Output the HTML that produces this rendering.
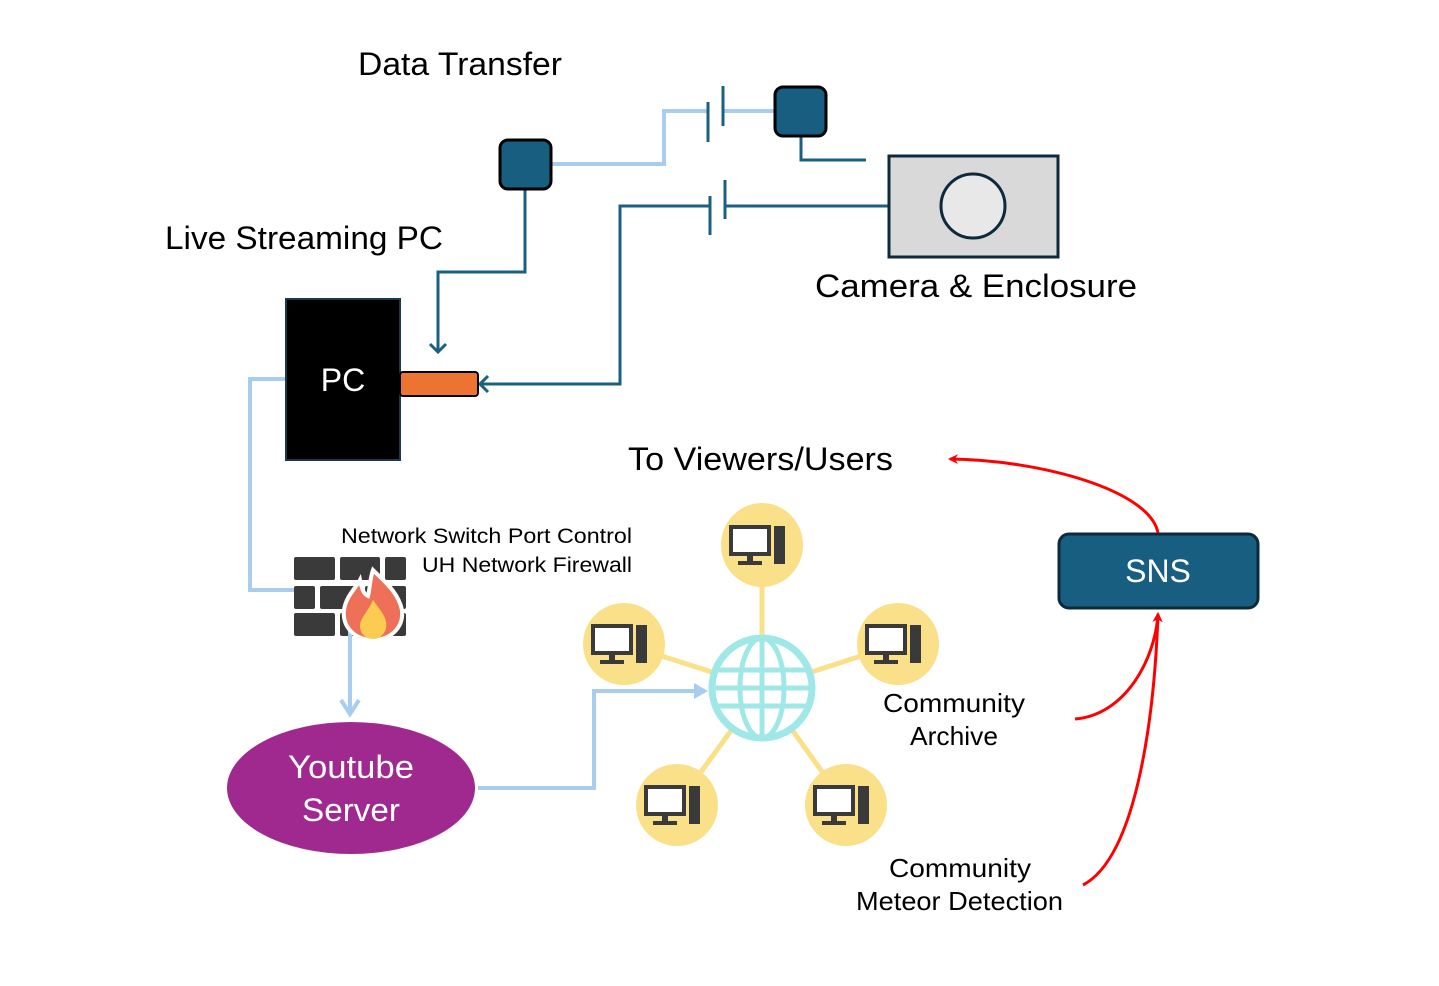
<!DOCTYPE html>
<html><head><meta charset="utf-8"><style>
html,body{margin:0;padding:0;background:#fff;}
svg{display:block;}
text{font-family:"Liberation Sans",sans-serif;}
</style></head><body>
<svg width="1439" height="986" viewBox="0 0 1439 986" xmlns="http://www.w3.org/2000/svg">
<defs>
<marker id="ar" markerWidth="10" markerHeight="10" refX="8" refY="5" orient="auto" markerUnits="userSpaceOnUse">
<path d="M0,0 L10,5 L0,10 L3,5 Z" fill="red"/></marker>
</defs>
<polyline points="551,164 664,164 664,111 708,111" fill="none" stroke="#a8cdee" stroke-width="4"/>
<line x1="723" y1="111" x2="776" y2="111" stroke="#a8cdee" stroke-width="4"/>
<g stroke="#1a6080" stroke-width="3" fill="none">
<line x1="708" y1="102" x2="708" y2="142"/>
<line x1="723" y1="86" x2="723" y2="126"/>
<polyline points="801,136 801,160 866,160"/>
<line x1="710" y1="196" x2="710" y2="235"/>
<line x1="725" y1="180" x2="725" y2="219"/>
<line x1="725" y1="206" x2="889" y2="206"/>
<polyline points="710,206 620,206 620,384 481,384"/>
<polyline points="488,376 480,384 488,392"/>
<polyline points="525,189 525,272 438,272 438,352"/>
<polyline points="430,344 438,352 446,344"/>
</g>
<rect x="500" y="140" width="51" height="49" rx="8" fill="#175e80" stroke="#000" stroke-width="3"/>
<rect x="775" y="87" width="51" height="49" rx="8" fill="#175e80" stroke="#000" stroke-width="3"/>
<rect x="889" y="156" width="169" height="101" fill="#d9d9d9" stroke="#0d2a3d" stroke-width="3"/>
<circle cx="973" cy="206" r="32" fill="#e8e8e8" stroke="#0d2a3d" stroke-width="3"/>
<polyline points="286,379 250,379 250,590 296,590" fill="none" stroke="#a8cdee" stroke-width="4"/>
<rect x="286" y="299" width="114" height="161" fill="#000" stroke="#1a3a4a" stroke-width="2"/>
<text x="343" y="391" font-size="32" fill="#fff" text-anchor="middle">PC</text>
<rect x="400" y="372" width="78" height="24" rx="3" fill="#ec7332" stroke="#000" stroke-width="2"/>
<g fill="#3a3a3a">
<rect x="294" y="557" width="41" height="23" rx="2"/><rect x="340" y="557" width="40" height="23" rx="2"/><rect x="385" y="557" width="21" height="23" rx="2"/>
<rect x="294" y="586" width="21" height="23" rx="2"/><rect x="320" y="586" width="40" height="23" rx="2"/><rect x="365" y="586" width="41" height="23" rx="2"/>
<rect x="294" y="613" width="41" height="23" rx="2"/><rect x="340" y="613" width="40" height="23" rx="2"/><rect x="385" y="613" width="21" height="23" rx="2"/>
</g>
<line x1="350" y1="610" x2="350" y2="712" stroke="#a8cdee" stroke-width="4"/>
<polyline points="341,700 350,714 359,700" fill="none" stroke="#a8cdee" stroke-width="4"/>
<path d="M373,570 C385,582 398,592 402,610 C404,628 390,640 373,640 C356,640 342,628 344,610 C346,596 356,588 360,580 C362,590 364,594 368,596 C370,588 370,578 373,570 Z" fill="#ef7059" stroke="#fff" stroke-width="4"/>
<path d="M373,600 C380,610 388,618 386,628 C384,636 378,639 373,639 C366,639 360,634 360,626 C360,618 368,612 373,600 Z" fill="#fccb52"/>
<ellipse cx="351" cy="788" rx="124" ry="66" fill="#a0298f"/>
<text x="288" y="778" font-size="32" fill="#fff" textLength="126" lengthAdjust="spacingAndGlyphs">Youtube</text>
<text x="302" y="821" font-size="32" fill="#fff" textLength="98" lengthAdjust="spacingAndGlyphs">Server</text>
<polyline points="478,788 594,788 594,691 696,691" fill="none" stroke="#a8cdee" stroke-width="4"/>
<path d="M694,683 L708,691 L694,699 Z" fill="#a8cdee"/>
<g stroke="#fbe08a" stroke-width="5">
<line x1="762" y1="688" x2="762" y2="560"/><line x1="762" y1="688" x2="624" y2="644"/>
<line x1="762" y1="688" x2="898" y2="644"/><line x1="762" y1="688" x2="677" y2="805"/>
<line x1="762" y1="688" x2="846" y2="805"/>
</g>
<g fill="#fbe08a">
<ellipse cx="762" cy="545" rx="41" ry="42"/><ellipse cx="624" cy="644" rx="41" ry="41"/>
<ellipse cx="898" cy="644" rx="41" ry="41"/><ellipse cx="677" cy="805" rx="41" ry="41"/>
<ellipse cx="846" cy="805" rx="41" ry="41"/>
</g>
<g>
<circle cx="762" cy="688" r="50" fill="#fff" stroke="#a0e8e8" stroke-width="7"/>
<g stroke="#a0e8e8" stroke-width="5" fill="none">
<ellipse cx="762" cy="688" rx="22" ry="50"/>
<line x1="762" y1="638" x2="762" y2="738"/>
<line x1="716" y1="670" x2="808" y2="670"/><line x1="716" y1="706" x2="808" y2="706"/>
<line x1="712" y1="688" x2="812" y2="688"/>
</g></g>
<g fill="#3a3a3a">
<g transform="translate(762,545)"><rect x="-31" y="-18" width="38" height="27" fill="#fff" stroke="#3a3a3a" stroke-width="4"/><rect x="-15" y="9" width="6" height="8"/><rect x="-24" y="16" width="24" height="4"/><rect x="12" y="-19" width="11" height="38"/></g>
<g transform="translate(624,644)"><rect x="-31" y="-18" width="38" height="27" fill="#fff" stroke="#3a3a3a" stroke-width="4"/><rect x="-15" y="9" width="6" height="8"/><rect x="-24" y="16" width="24" height="4"/><rect x="12" y="-19" width="11" height="38"/></g>
<g transform="translate(898,644)"><rect x="-31" y="-18" width="38" height="27" fill="#fff" stroke="#3a3a3a" stroke-width="4"/><rect x="-15" y="9" width="6" height="8"/><rect x="-24" y="16" width="24" height="4"/><rect x="12" y="-19" width="11" height="38"/></g>
<g transform="translate(677,805)"><rect x="-31" y="-18" width="38" height="27" fill="#fff" stroke="#3a3a3a" stroke-width="4"/><rect x="-15" y="9" width="6" height="8"/><rect x="-24" y="16" width="24" height="4"/><rect x="12" y="-19" width="11" height="38"/></g>
<g transform="translate(846,805)"><rect x="-31" y="-18" width="38" height="27" fill="#fff" stroke="#3a3a3a" stroke-width="4"/><rect x="-15" y="9" width="6" height="8"/><rect x="-24" y="16" width="24" height="4"/><rect x="12" y="-19" width="11" height="38"/></g>
</g>
<rect x="1059" y="534" width="199" height="74" rx="10" fill="#175e80" stroke="#0d2a3d" stroke-width="3"/>
<text x="1158" y="582" font-size="32" fill="#fff" text-anchor="middle">SNS</text>
<g stroke="red" stroke-width="3" fill="none">
<path d="M1158,533 C1150,490 1040,460 950,459" marker-end="url(#ar)"/>
<path d="M1075,719 C1125,715 1155,660 1158,614" marker-end="url(#ar)"/>
<path d="M1083,885 C1140,855 1155,700 1158,614" marker-end="url(#ar)"/>
</g>
<g fill="#000">
<text x="358" y="75" font-size="32" textLength="204" lengthAdjust="spacingAndGlyphs">Data Transfer</text>
<text x="165" y="249" font-size="32" textLength="278" lengthAdjust="spacingAndGlyphs">Live Streaming PC</text>
<text x="815" y="297" font-size="32" textLength="322" lengthAdjust="spacingAndGlyphs">Camera &amp;  Enclosure</text>
<text x="628" y="470" font-size="32" textLength="265" lengthAdjust="spacingAndGlyphs">To Viewers/Users</text>
<text x="341" y="543" font-size="21" textLength="291" lengthAdjust="spacingAndGlyphs">Network Switch Port Control</text>
<text x="422" y="572" font-size="21" textLength="210" lengthAdjust="spacingAndGlyphs">UH Network Firewall</text>
<text x="883" y="712" font-size="26" textLength="142" lengthAdjust="spacingAndGlyphs">Community</text>
<text x="910" y="745" font-size="26" textLength="88" lengthAdjust="spacingAndGlyphs">Archive</text>
<text x="889" y="877" font-size="26" textLength="142" lengthAdjust="spacingAndGlyphs">Community</text>
<text x="856" y="910" font-size="26" textLength="207" lengthAdjust="spacingAndGlyphs">Meteor Detection</text>
</g>
</svg>
</body></html>
